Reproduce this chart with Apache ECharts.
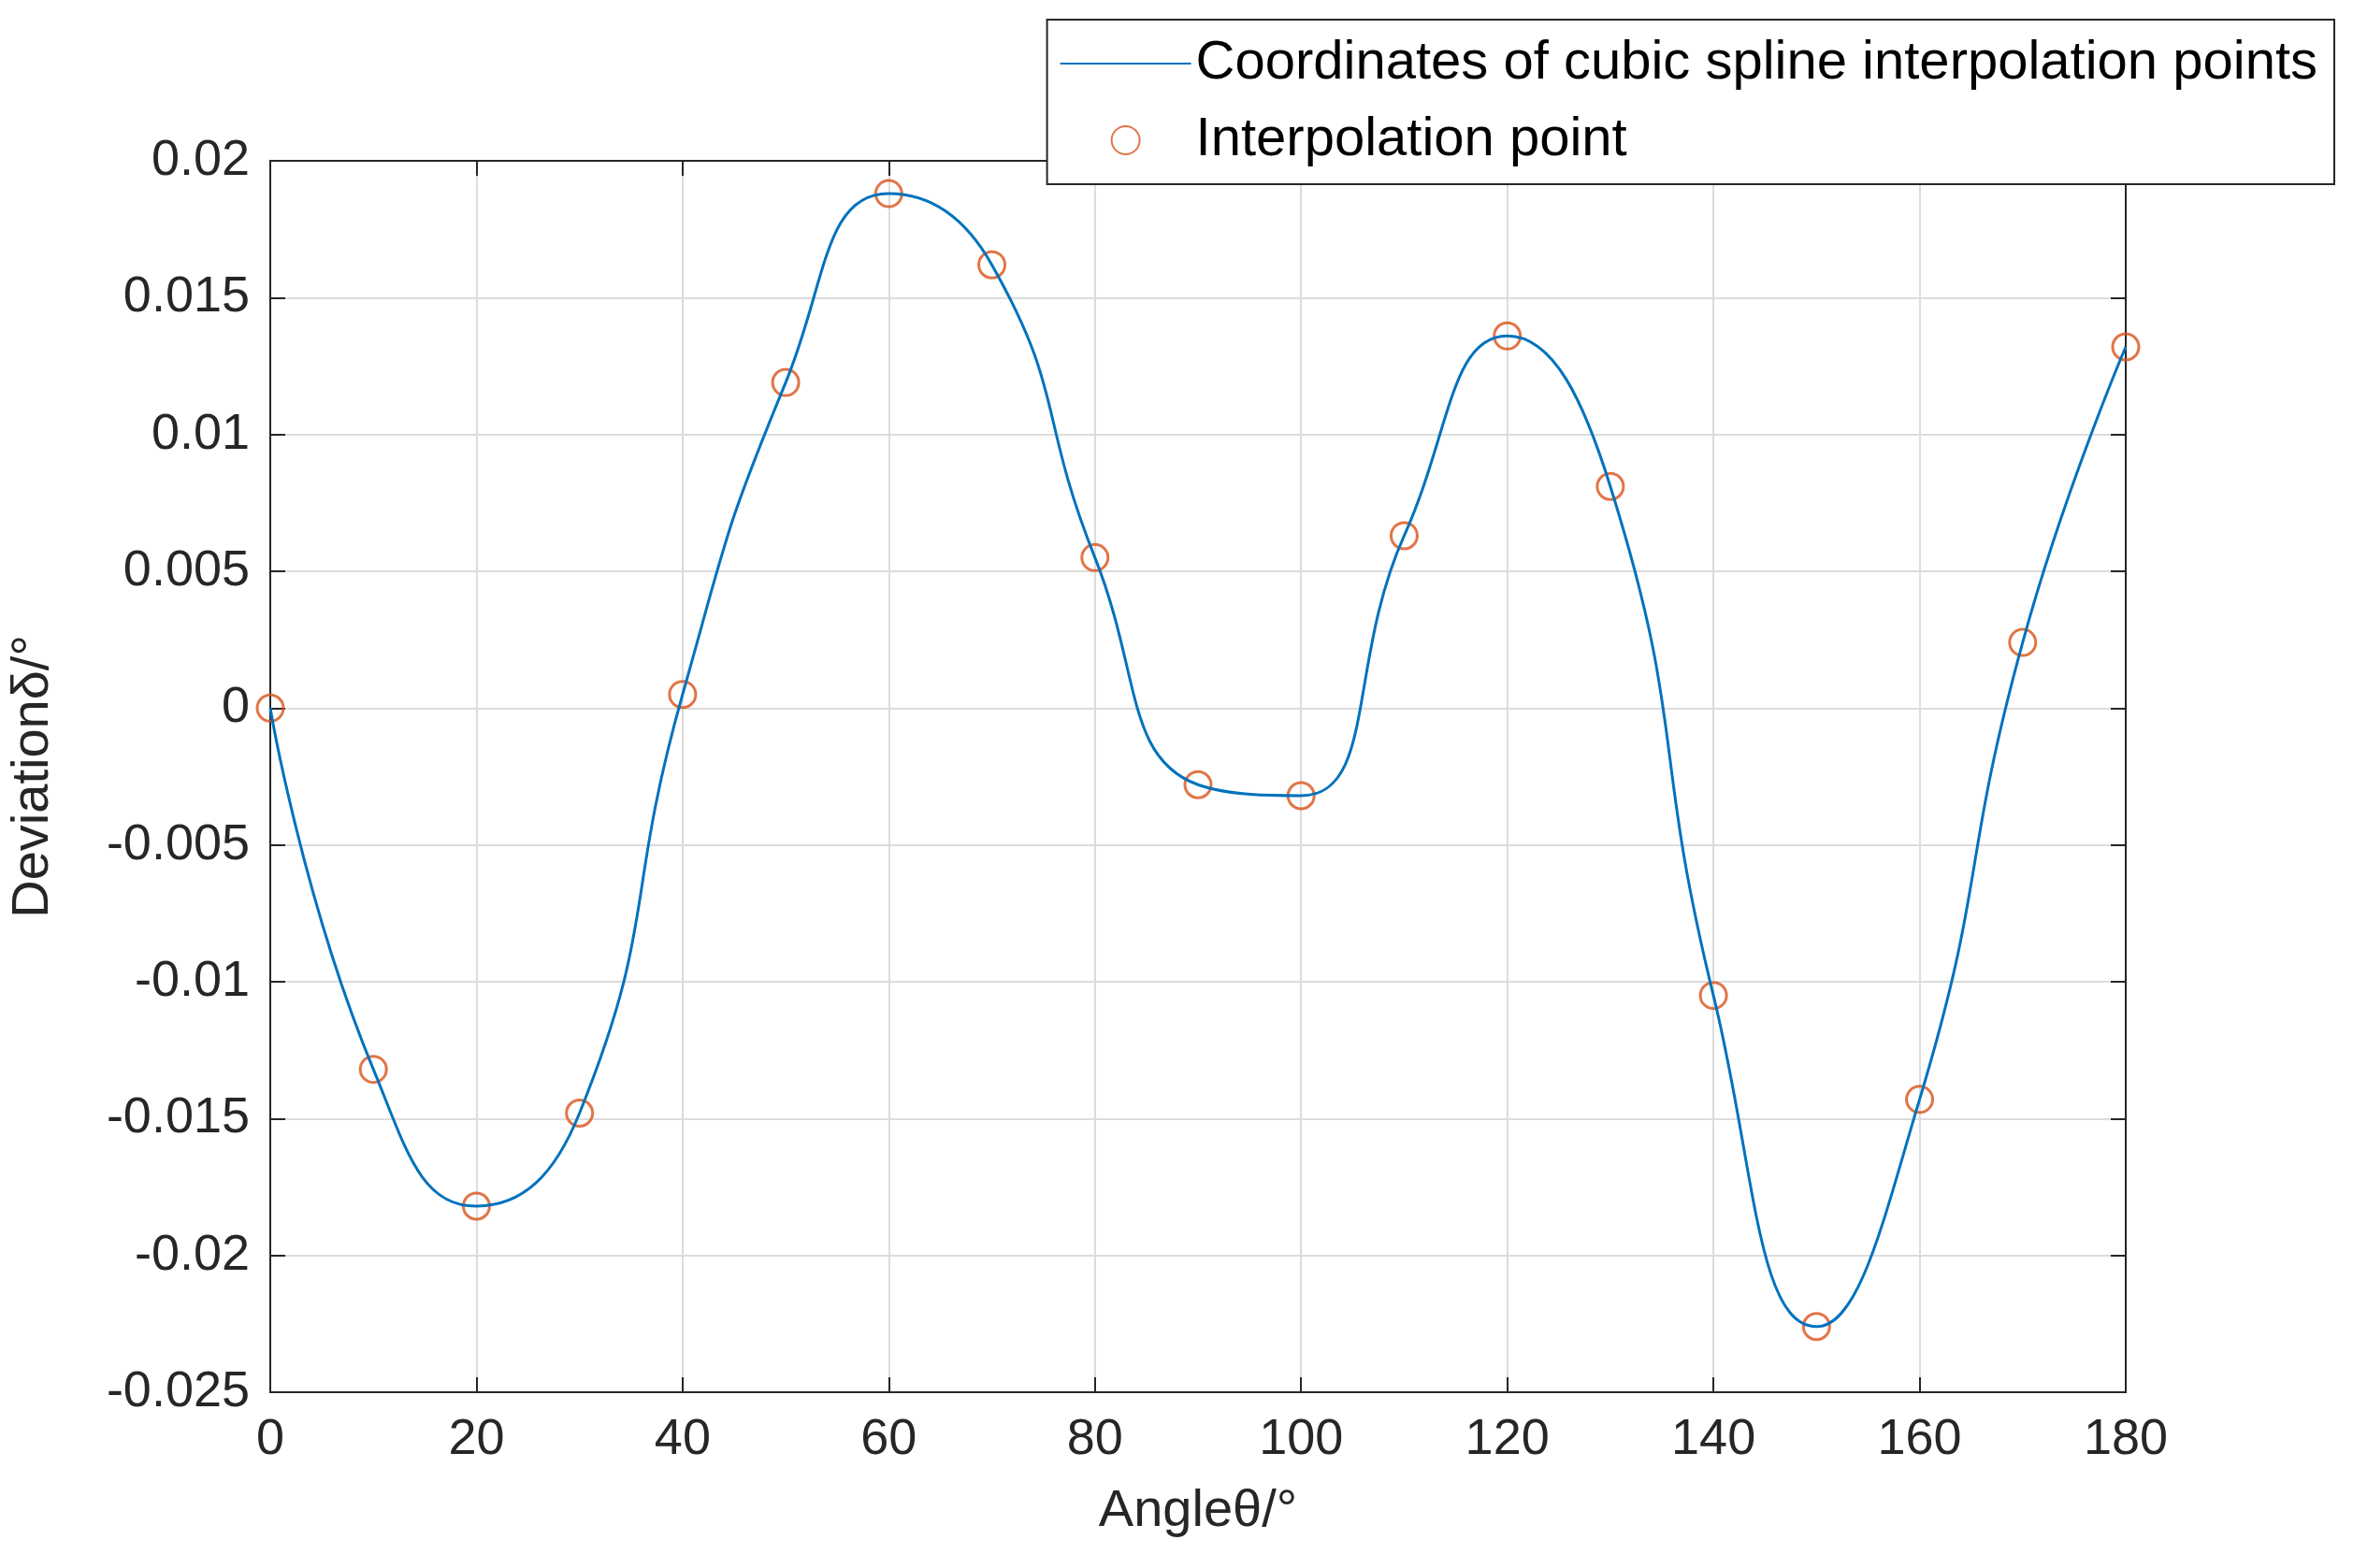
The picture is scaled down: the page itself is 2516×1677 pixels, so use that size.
<!DOCTYPE html>
<html>
<head>
<meta charset="utf-8">
<script src="https://cdn.jsdelivr.net/npm/echarts@6/dist/echarts.min.js"></script>
<style>html,body{margin:0;background:#fff}#c{width:2516px;height:1677px}</style>
</head>
<body>
<div id="c"></div>
<script>
var angles = [0, 10, 20, 30, 40, 50, 60, 70, 80, 90, 100, 110, 120, 130, 140, 150, 160, 170, 180];
var deviations = [0, -0.0132, -0.0182, -0.0148, 0.0005, 0.0119, 0.0188, 0.0162, 0.0055, -0.0028,
  -0.0032, 0.0063, 0.0136, 0.0081, -0.0105, -0.0226, -0.0143, 0.0024, 0.0132];

var pts = angles.map(function (a, i) { return [a, deviations[i]]; });
var font = 'Liberation Sans, Arial, sans-serif';
var dark = '#262626';

function mirror(extra) {
  return Object.assign({
    type: 'value', axisLine: { onZero: false, lineStyle: { color: dark, width: 2 } },
    axisTick: { inside: true, length: 16, lineStyle: { color: dark, width: 2 } },
    axisLabel: { show: false }, splitLine: { show: false }
  }, extra);
}

var chart = echarts.init(document.getElementById('c'));
chart.setOption({
  animation: false,
  backgroundColor: '#fff',
  grid: { left: 281, right: 243, top: 172, bottom: 188, show: true, borderColor: dark, borderWidth: 2 },
  legend: {
    right: 20, top: 21, orient: 'vertical', itemGap: 24, itemWidth: 140, itemHeight: 30,
    backgroundColor: '#fff', borderColor: dark, borderWidth: 2, padding: [18, 18, 18, 14],
    textStyle: { fontFamily: font, fontSize: 58, color: '#000' },
    data: [
      { name: 'Coordinates of cubic spline interpolation points', icon: 'path://M0,15L140,15L140,17L0,17Z' },
      { name: 'Interpolation point' }
    ]
  },
  xAxis: [{
    type: 'value', min: 0, max: 180, interval: 20,
    name: 'Angleθ/°', nameLocation: 'middle', nameGap: 100,
    nameTextStyle: { fontFamily: font, fontSize: 56, color: dark },
    axisLine: { onZero: false, lineStyle: { color: dark, width: 2 } },
    axisTick: { inside: true, length: 16, lineStyle: { color: dark, width: 2 } },
    axisLabel: { fontFamily: font, fontSize: 54, color: dark, margin: 24 },
    splitLine: { lineStyle: { color: '#dcdcdc', width: 2 } }
  }, mirror({ position: 'top', min: 0, max: 180, interval: 20 })],
  yAxis: [{
    type: 'value', min: -0.025, max: 0.02, interval: 0.005,
    name: 'Deviationδ/°', nameLocation: 'middle', nameGap: 225,
    nameTextStyle: { fontFamily: font, fontSize: 56, color: dark },
    axisLine: { onZero: false, lineStyle: { color: dark, width: 2 } },
    axisTick: { inside: true, length: 16, lineStyle: { color: dark, width: 2 } },
    axisLabel: { fontFamily: font, fontSize: 54, color: dark, margin: 22,
      formatter: function (v) { return String(parseFloat(v.toFixed(3))); } },
    splitLine: { lineStyle: { color: '#dcdcdc', width: 2 } }
  }, mirror({ position: 'right', min: -0.025, max: 0.02, interval: 0.005 })],
  series: [
    {
      name: 'Coordinates of cubic spline interpolation points', type: 'line', data: pts,
      smooth: 0.5, showSymbol: false, lineStyle: { color: '#0072BD', width: 3 },
      itemStyle: { color: '#0072BD' }
    },
    {
      name: 'Interpolation point', type: 'scatter', data: pts, symbol: 'circle', symbolSize: 28,
      itemStyle: { color: 'rgba(0,0,0,0)', borderColor: '#D95319', borderWidth: 3 }
    }
  ]
});
</script>
</body>
</html>
